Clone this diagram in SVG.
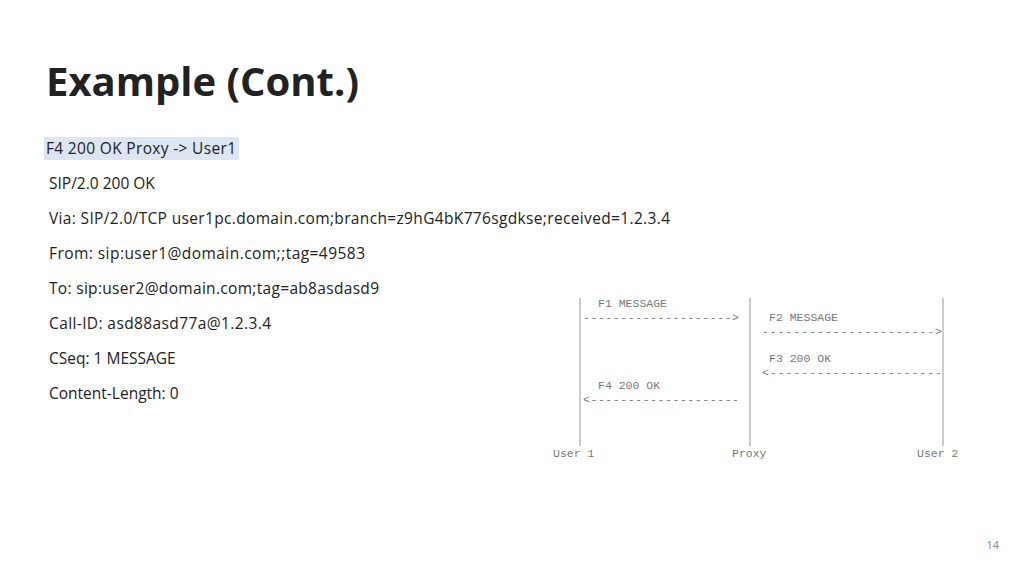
<svg xmlns="http://www.w3.org/2000/svg" width="1024" height="576" viewBox="0 0 1024 576">
<style>
.t{font-family:"Open Sans","Liberation Sans",sans-serif;font-size:15.5px;fill:#222}
.m{font-family:"Liberation Mono",monospace;font-size:11.5px;fill:#777}
</style>
<rect width="1024" height="576" fill="#fff"/>
<text x="46" y="96" font-family="'Open Sans','Liberation Sans',sans-serif" font-weight="bold" font-size="40" fill="#222">Example (Cont.)</text>
<rect x="44" y="137" width="195" height="23" fill="#dce6f2"/>
<g class="t">
<text x="46" y="154" textLength="190">F4 200 OK  Proxy -&gt; User1</text>
<text x="49" y="189">SIP/2.0 200 OK</text>
<text x="49" y="224" textLength="621">Via: SIP/2.0/TCP user1pc.domain.com;branch=z9hG4bK776sgdkse;received=1.2.3.4</text>
<text x="49" y="259" textLength="316">From: sip:user1@domain.com;;tag=49583</text>
<text x="49" y="294" textLength="330">To: sip:user2@domain.com;tag=ab8asdasd9</text>
<text x="49" y="329" textLength="222">Call-ID: asd88asd77a@1.2.3.4</text>
<text x="49" y="364">CSeq: 1 MESSAGE</text>
<text x="49" y="399">Content-Length: 0</text>
</g>
<g id="lifelines" stroke="#999" stroke-width="1">
<line x1="580" y1="298" x2="580" y2="446"/>
<line x1="750" y1="298" x2="750" y2="446"/>
<line x1="943" y1="298" x2="943" y2="446"/>
</g>
<g id="connectors" class="m">
<text x="583" y="321" textLength="156">--------------------&gt;</text>
<text x="762" y="335" textLength="180">----------------------&gt;</text>
<text x="762" y="376" textLength="180">&lt;----------------------</text>
<text x="583" y="403" textLength="156">&lt;--------------------</text>
</g>
<g class="m">
<text x="598" y="307">F1 MESSAGE</text>
<text x="769" y="321">F2 MESSAGE</text>
<text x="769" y="362">F3 200 OK</text>
<text x="598" y="389">F4 200 OK</text>
<text id="user1" x="553" y="457">User 1</text>
<text id="proxy" x="732" y="457">Proxy</text>
<text id="user2" x="917" y="457">User 2</text>
</g>
<text x="999" y="549" text-anchor="end" font-family="'Open Sans','Liberation Sans',sans-serif" font-size="11" fill="#888">14</text>
</svg>
